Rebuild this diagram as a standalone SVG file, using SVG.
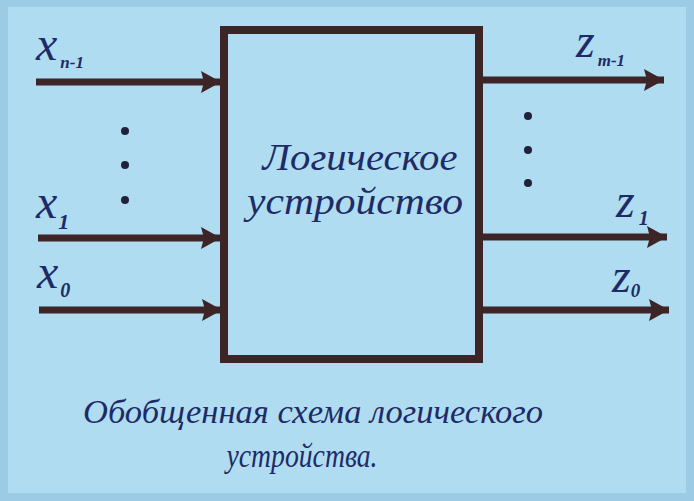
<svg xmlns="http://www.w3.org/2000/svg" width="694" height="501" viewBox="0 0 694 501">
<style>
.t{font-family:"Liberation Serif","DejaVu Serif",serif;font-style:italic;fill:#1e2b66}
.v{font-size:48px}
.s{font-weight:bold}
.ln{stroke:#3c2427;stroke-width:7;fill:none}
.box{stroke:#3c2427;stroke-width:8;fill:none}
.dot{fill:#1f2238}
</style>
<defs>
<marker id="ah" markerUnits="userSpaceOnUse" markerWidth="24" markerHeight="24" refX="20" refY="12" orient="auto">
<path d="M0,1 L20,12 L0,23 L3,12 Z" fill="#3c2427"/>
</marker>
</defs>
<rect x="0" y="0" width="694" height="501" fill="#afdcf0"/>
<rect x="4" y="3" width="686" height="494" fill="none" stroke="#9ccbe6" stroke-width="8"/>
<g id="device">
<rect class="box" x="224" y="30" width="255" height="329"/>
<text class="t" x="360" y="170" font-size="38" text-anchor="middle" textLength="195" lengthAdjust="spacingAndGlyphs">Логическое</text>
<text class="t" x="355" y="214" font-size="38" text-anchor="middle" textLength="216" lengthAdjust="spacingAndGlyphs">устройство</text>
</g>
<g id="connectors">
<line class="ln" x1="36" y1="82" x2="221" y2="82" marker-end="url(#ah)"/>
<line class="ln" x1="38" y1="238" x2="221" y2="238" marker-end="url(#ah)"/>
<line class="ln" x1="39" y1="310" x2="222" y2="310" marker-end="url(#ah)"/>
<line class="ln" x1="482" y1="80" x2="664" y2="80" marker-end="url(#ah)"/>
<line class="ln" x1="482" y1="237" x2="667" y2="237" marker-end="url(#ah)"/>
<line class="ln" x1="482" y1="310" x2="669" y2="310" marker-end="url(#ah)"/>
</g>
<g id="in-labels">
<text class="t" x="36" y="60"><tspan class="v">x</tspan><tspan class="s" font-size="17" dx="3" dy="8">n-1</tspan></text>
<text class="t" x="36" y="218"><tspan class="v">x</tspan><tspan class="s" font-size="22" dx="1" dy="11">1</tspan></text>
<text class="t" x="37" y="288"><tspan class="v">x</tspan><tspan class="s" font-size="20" dx="2" dy="9">0</tspan></text>
</g>
<g id="out-labels">
<text class="t" x="576" y="57"><tspan class="v">z</tspan><tspan class="s" font-size="17" dx="3" dy="9">m-1</tspan></text>
<text class="t" x="616" y="217"><tspan class="v">z</tspan><tspan class="s" font-size="20" dx="4" dy="8">1</tspan></text>
<text class="t" x="612" y="292"><tspan class="v">z</tspan><tspan class="s" font-size="19" dx="0" dy="5">0</tspan></text>
</g>
<g id="dots">
<circle class="dot" cx="125" cy="131" r="4"/>
<circle class="dot" cx="125" cy="165" r="4"/>
<circle class="dot" cx="125" cy="200" r="4"/>
<circle class="dot" cx="528" cy="116" r="4"/>
<circle class="dot" cx="528" cy="150" r="4"/>
<circle class="dot" cx="528" cy="183" r="4"/>
</g>
<g id="caption">
<text class="t" x="313" y="423" font-size="34" text-anchor="middle" textLength="460" lengthAdjust="spacingAndGlyphs">Обобщенная схема логического</text>
<text class="t" x="302" y="467" font-size="34" text-anchor="middle" textLength="151" lengthAdjust="spacingAndGlyphs">устройства.</text>
</g>
</svg>
